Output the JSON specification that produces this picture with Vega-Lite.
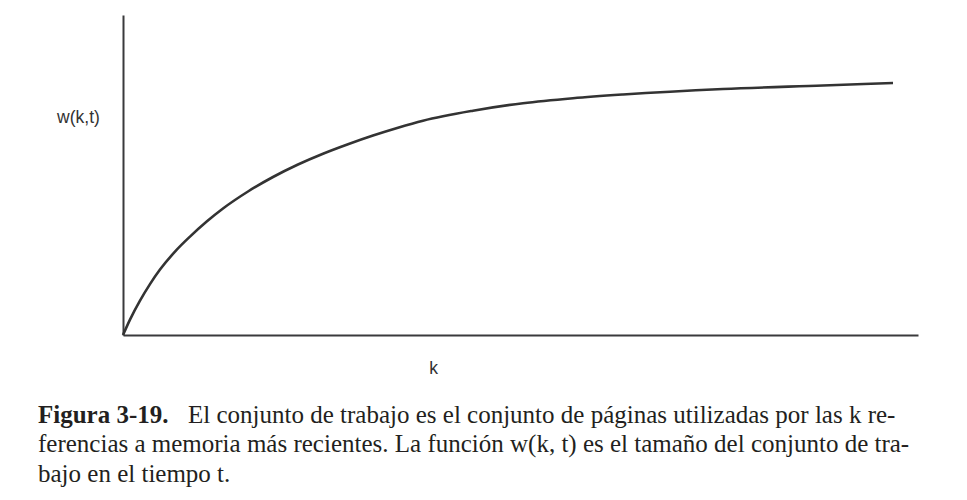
{
  "$schema": "https://vega.github.io/schema/vega-lite/v6.json",
  "width": 795,
  "height": 320,
  "autosize": "none",
  "padding": {"left": 123, "top": 15, "right": 49, "bottom": 165},
  "background": "white",
  "config": {"view": {"stroke": null}},
  "title": {
    "text": "Figura 3-19.",
    "subtitle": [
      "\u200b\u00a0\u00a0\u00a0\u00a0\u00a0\u00a0\u00a0\u00a0\u00a0\u00a0\u00a0\u00a0\u00a0\u00a0\u00a0\u00a0\u00a0\u00a0\u00a0\u00a0\u00a0\u00a0\u00a0\u00a0El conjunto de trabajo es el conjunto de páginas utilizadas por las k re-",
      "ferencias a memoria más recientes. La función w(k, t) es el tamaño del conjunto de tra-",
      "bajo en el tiempo t."
    ],
    "orient": "bottom",
    "anchor": "start",
    "frame": "group",
    "dx": -85,
    "offset": 26,
    "font": "Liberation Serif",
    "fontSize": 25,
    "fontWeight": "bold",
    "color": "#231f20",
    "subtitleFont": "Liberation Serif",
    "subtitleFontSize": 25,
    "subtitleFontWeight": "normal",
    "subtitleColor": "#231f20",
    "subtitleLineHeight": 29.5,
    "subtitlePadding": -25
  },
  "data": {
    "values": [
      {"k": 0, "w": 0},
      {"k": 7, "w": 15.4},
      {"k": 17, "w": 34.4},
      {"k": 27, "w": 50.9},
      {"k": 37, "w": 65.4},
      {"k": 52, "w": 83.4},
      {"k": 67, "w": 98.4},
      {"k": 84, "w": 113.7},
      {"k": 100, "w": 126.5},
      {"k": 125, "w": 143.5},
      {"k": 150, "w": 158},
      {"k": 175, "w": 170.5},
      {"k": 200, "w": 181.3},
      {"k": 225, "w": 190.8},
      {"k": 250, "w": 199.5},
      {"k": 275, "w": 207.3},
      {"k": 300, "w": 214.3},
      {"k": 350, "w": 224.3},
      {"k": 400, "w": 231.8},
      {"k": 450, "w": 236.8},
      {"k": 500, "w": 240.5},
      {"k": 600, "w": 246},
      {"k": 700, "w": 249.5},
      {"k": 770, "w": 252}
    ]
  },
  "mark": {"type": "line", "color": "#333333", "strokeWidth": 2.6, "interpolate": "monotone", "clip": false},
  "encoding": {
    "x": {
      "field": "k",
      "type": "quantitative",
      "scale": {"domain": [0, 795], "nice": false, "zero": false},
      "axis": {
        "title": "k",
        "labels": false,
        "ticks": false,
        "grid": false,
        "domainColor": "#3a3a3c",
        "domainWidth": 2,
        "titleFont": "Liberation Sans",
        "titleFontSize": 17.5,
        "titleFontWeight": "normal",
        "titleColor": "#333333",
        "titleX": 310,
        "titleY": 33,
        "titleAlign": "center",
        "titleBaseline": "middle"
      }
    },
    "y": {
      "field": "w",
      "type": "quantitative",
      "scale": {"domain": [0, 320], "nice": false, "zero": false},
      "axis": {
        "title": "w(k,t)",
        "labels": false,
        "ticks": false,
        "grid": false,
        "domainColor": "#3a3a3c",
        "domainWidth": 2,
        "titleAngle": 0,
        "titleFont": "Liberation Sans",
        "titleFontSize": 17.5,
        "titleFontWeight": "normal",
        "titleColor": "#333333",
        "titleX": -45,
        "titleY": 102,
        "titleAlign": "center",
        "titleBaseline": "middle"
      }
    }
  }
}
